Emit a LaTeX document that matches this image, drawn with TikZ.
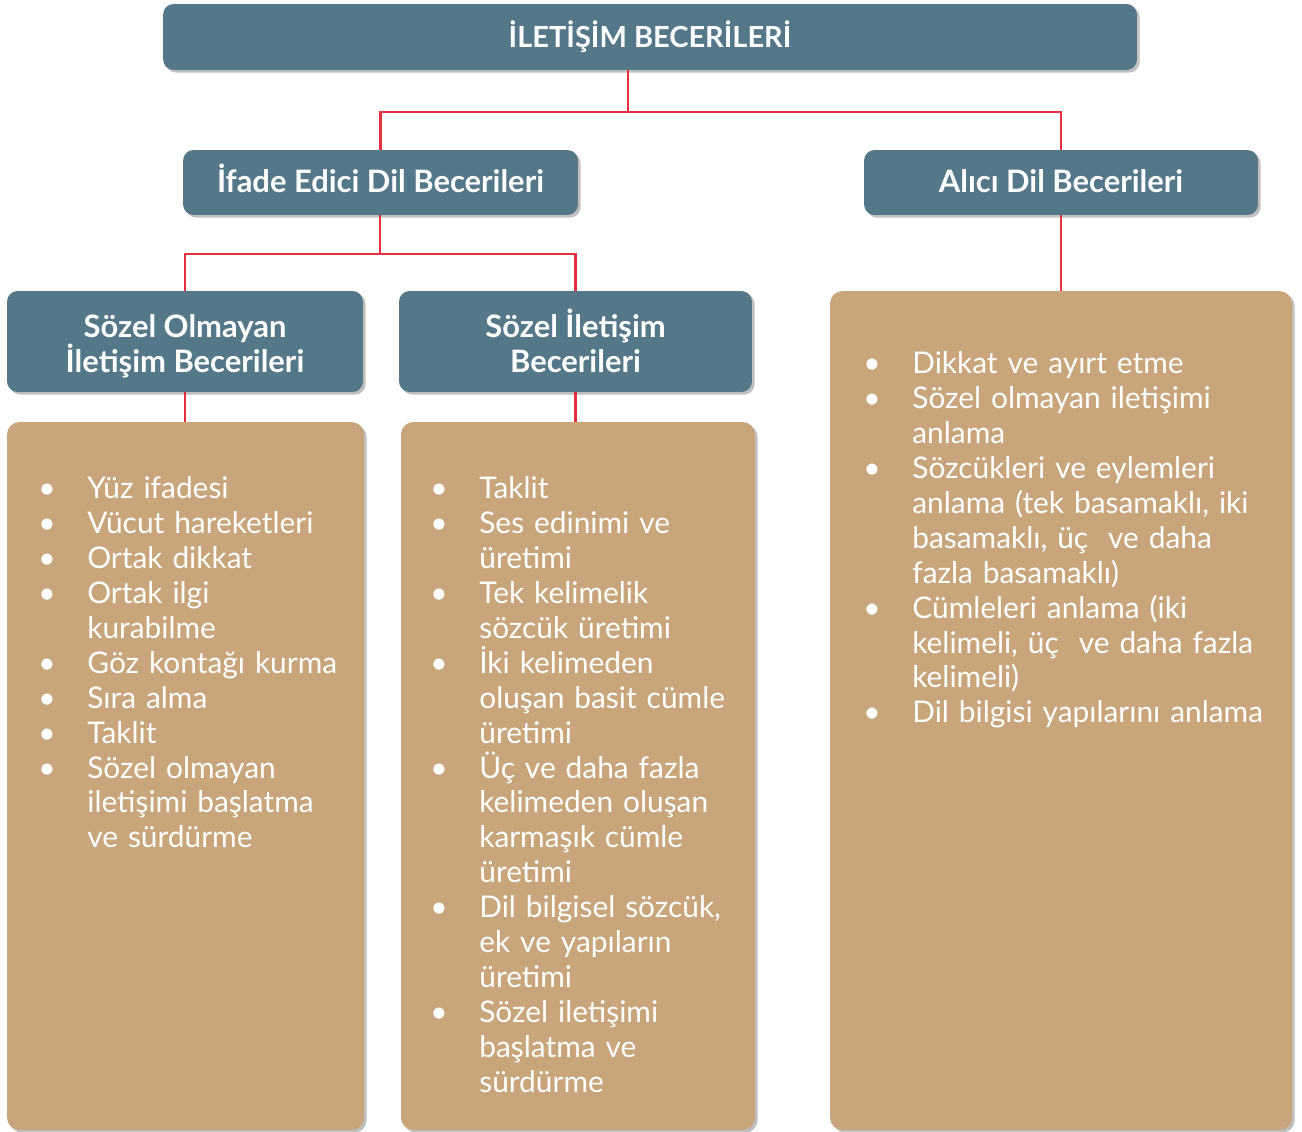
\documentclass[tikz,border=0pt]{standalone}
\usepackage{fontspec}
\setmainfont{Lato}
\usetikzlibrary{shadows}

\definecolor{headblue}{HTML}{557888}
\definecolor{listtan}{HTML}{C8A57B}
\definecolor{linkred}{HTML}{E5303F}

\newcommand{\bitem}{\par\hangindent=0.98cm\hangafter=1\noindent\strut\makebox[0.98cm][l]{\textbullet}}
\newcommand{\toprow}{\rule{0pt}{20.8pt}}
\newcommand{\lastrow}{\rule[-5pt]{0pt}{0pt}}

\begin{document}
\begin{tikzpicture} [
                x=0.02cm, y=-0.02cm,
                head/.style = {rectangle, rounded corners=6pt, fill=headblue, text=white,
                    align=center, inner sep=0pt,
                    drop shadow={shadow xshift=1.5pt, shadow yshift=-1.5pt, fill=black, opacity=0.25}},
                card/.style = {rectangle, rounded corners=7pt, fill=listtan, inner sep=0pt,
                    drop shadow={shadow xshift=1.5pt, shadow yshift=-1.5pt, fill=black, opacity=0.25}},
                items/.style = {anchor=north west, inner sep=0pt, text width=9cm,
                    text=white, font=\fontsize{17}{19.9}\selectfont},
                link/.style = {draw=linkred, line width=1.2pt},
            ]
            \useasboundingbox (0,0) rectangle (1302,1132);
            % headings
            \node[head, minimum width=19.48cm, minimum height=1.32cm, text height=14pt, text depth=2pt,
                font=\fontsize{16.5}{19}\selectfont\bfseries] (top) at (650,37) {İLETİŞİM BECERİLERİ};
            \foreach \pos/\w/\name/\txt in {
                    {(380.5,182.5)/7.9cm/ifade/İfade Edici Dil Becerileri},
                    {(1061,182.5)/7.88cm/alici/Alıcı Dil Becerileri}}
                \node[head, minimum width=\w, minimum height=1.3cm, text height=15pt, text depth=3.1pt,
                    font=\fontsize{17.6}{19.8}\selectfont\bfseries] (\name) at \pos {\txt};
            \foreach \pos/\w/\name/\txt in {
                    {(185,341.5)/7.12cm/sozsiz/\toprow Sözel Olmayan\\İletişim Becerileri\lastrow},
                    {(575.5,341.5)/7.06cm/sozlu/\toprow Sözel İletişim\\Becerileri\lastrow}}
                \node[head, minimum width=\w, minimum height=2.02cm,
                    font=\fontsize{17.6}{19.8}\selectfont\bfseries] (\name) at \pos {\txt};
            % cards
            \node[card, minimum width=7.14cm, minimum height=14.16cm] (list1) at (185.5,776) {};
            \node[card, minimum width=7.08cm, minimum height=14.16cm] (list2) at (578,776) {};
            \node[card, minimum width=9.24cm, minimum height=16.78cm] (list3) at (1061,710.5) {};
            % connectors
            \coordinate (j1) at (628,112);
            \coordinate (j2) at (380,254);
            \path[link] (top.south -| j1) -- (j1);
            \path[link] (ifade.north) |- (j1) -| (alici.north);
            \path[link] (ifade.south -| j2) -- (j2);
            \path[link] (sozsiz.north) |- (j2) -| (sozlu.north);
            \foreach \source/ \dest in {
                    sozsiz/list1, sozlu/list2, alici/list3}
                \path[link] (\source.south) -- (\source.south |- \dest.north);
            % card texts
            \node[items] (text1) at (38,463) {%
                \bitem Yüz ifadesi
                \bitem Vücut hareketleri
                \bitem Ortak dikkat
                \bitem Ortak ilgi\newline kurabilme
                \bitem Göz kontağı kurma
                \bitem Sıra alma
                \bitem Taklit
                \bitem Sözel olmayan\newline iletişimi başlatma\newline ve sürdürme\par};
            \node[items] (text2) at (430,463) {%
                \bitem Taklit
                \bitem Ses edinimi ve\newline üretimi
                \bitem Tek kelimelik\newline sözcük üretimi
                \bitem İki kelimeden\newline oluşan basit cümle\newline üretimi
                \bitem Üç ve daha fazla\newline kelimeden oluşan\newline karmaşık cümle\newline üretimi
                \bitem Dil bilgisel sözcük,\newline ek ve yapıların\newline üretimi
                \bitem Sözel iletişimi\newline başlatma ve\newline sürdürme\par};
            \node[items] (text3) at (863,338) {%
                \bitem Dikkat ve ayırt etme
                \bitem Sözel olmayan iletişimi\newline anlama
                \bitem Sözcükleri ve eylemleri\newline anlama (tek basamaklı, iki\newline basamaklı, üç~ ve daha\newline fazla basamaklı)
                \bitem Cümleleri anlama (iki\newline kelimeli, üç~ ve daha fazla\newline kelimeli)
                \bitem Dil bilgisi yapılarını anlama\par};
        \end{tikzpicture}
\end{document}
